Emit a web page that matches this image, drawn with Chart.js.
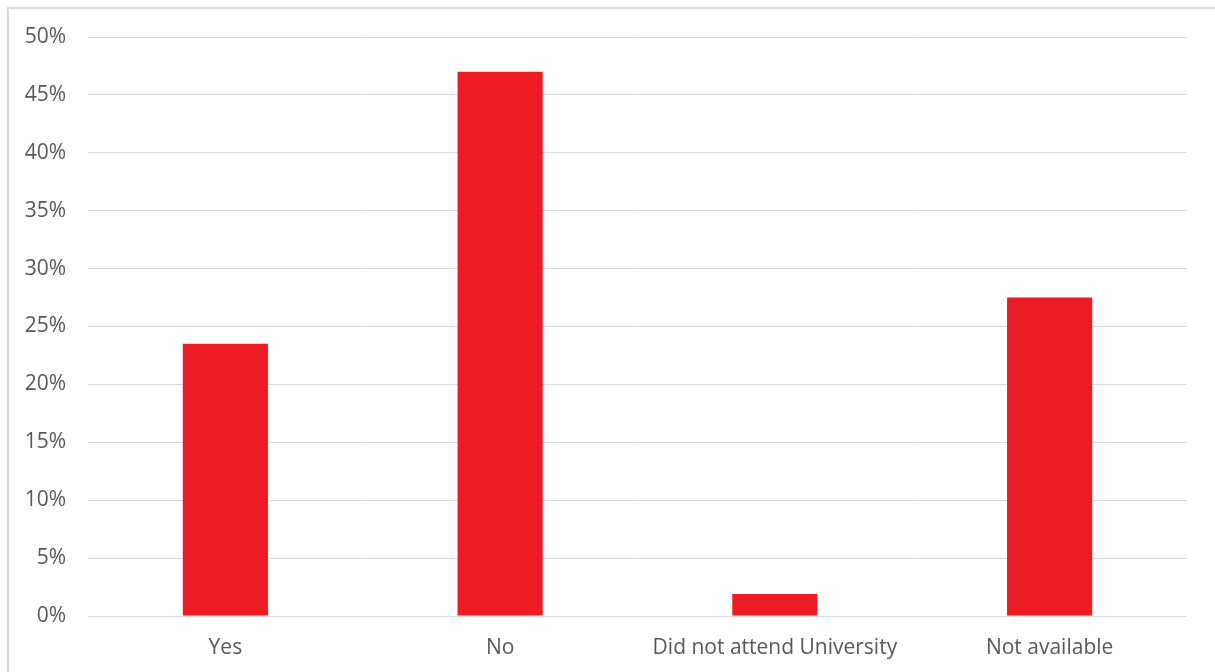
<!DOCTYPE html>
<html>
<head>
<meta charset="utf-8">
<script src="https://cdn.jsdelivr.net/npm/chart.js@4"></script>
<style>
  body { margin: 0; background: #fff; }
  #frame { position: absolute; left: 7px; top: 7px; width: 1230px; height: 690px; border: 2px solid #d9d9d9; }
  #wrap { position: absolute; left: 0; top: 0; width: 1215px; height: 672px; }
</style>
</head>
<body>
<div id="frame"></div>
<div id="wrap"><canvas id="myBarChart"></canvas></div>
<script>
const categories = ['Yes', 'No', 'Did not attend University', 'Not available'];
const shares = [23.5, 47.0, 1.9, 27.5];
const yTicks = [0, 5, 10, 15, 20, 25, 30, 35, 40, 45, 50];

const renderChart = () => {
    var ctx = document.getElementById('myBarChart').getContext('2d');
    new Chart(ctx, {
        type: 'bar',
        data: {
            labels: categories,
            datasets: [{
                data: shares,
                backgroundColor: '#ED1C24',
                borderWidth: 0,
                barPercentage: 1,
                categoryPercentage: 0.31
            }]
        },
        options: {
            responsive: true,
            maintainAspectRatio: false,
            animation: false,
            layout: { padding: { top: 37, right: 28, bottom: 0, left: 0 } },
            plugins: {
                legend: { display: false },
                tooltip: { enabled: false }
            },
            scales: {
                x: {
                    grid: { display: false },
                    border: { display: false },
                    ticks: {
                        color: '#595959',
                        font: { family: 'Open Sans', size: 21 },
                        padding: 11,
                        maxRotation: 0
                    },
                    afterFit: (axis) => { axis.height = 56; }
                },
                y: {
                    min: 0,
                    max: 50,
                    afterBuildTicks: (axis) => { axis.ticks = yTicks.map(v => ({ value: v })); },
                    grid: { color: '#d9d9d9', lineWidth: 1, drawTicks: false },
                    border: { display: false },
                    ticks: {
                        color: '#595959',
                        font: { family: 'Open Sans', size: 21 },
                        padding: 22,
                        callback: (v) => v + '%'
                    },
                    afterFit: (axis) => { axis.width = 88; }
                }
            }
        }
    });
};

document.addEventListener("DOMContentLoaded", renderChart);
</script>
</body>
</html>
